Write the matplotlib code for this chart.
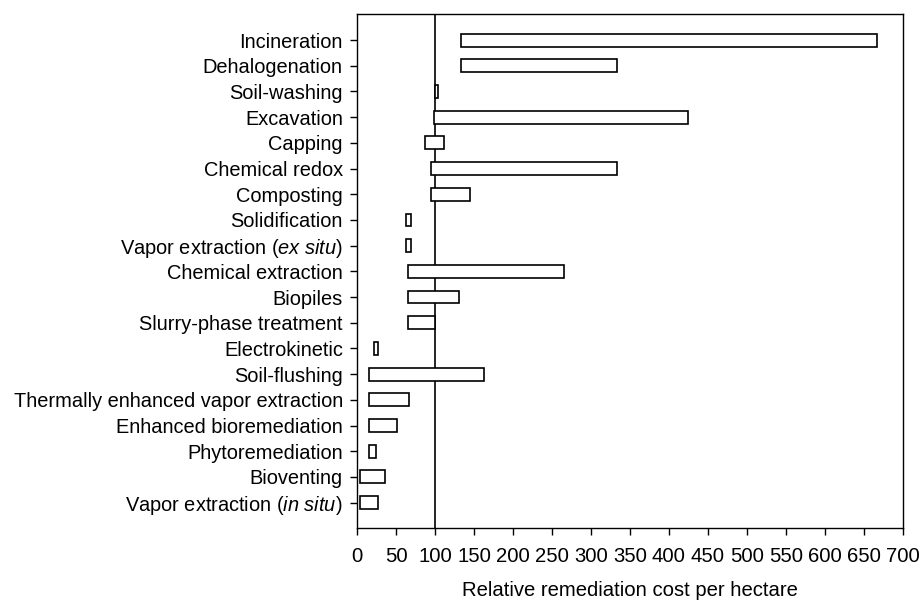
import numpy as np
import matplotlib
matplotlib.use("Agg")
import matplotlib.pyplot as plt

plt.rcParams["font.family"] = ["Liberation Sans", "DejaVu Sans"]
plt.rcParams["mathtext.fontset"] = "custom"
plt.rcParams["mathtext.rm"] = "Liberation Sans"
plt.rcParams["mathtext.it"] = "Liberation Sans:italic"

# technologies, top to bottom, with low / high relative cost per hectare
techs = ["Incineration", "Dehalogenation", "Soil-washing", "Excavation", "Capping",
         "Chemical redox", "Composting", "Solidification",
         r"Vapor extraction ($\it{ex\ situ}$)", "Chemical extraction", "Biopiles",
         "Slurry-phase treatment", "Electrokinetic", "Soil-flushing",
         "Thermally enhanced vapor extraction", "Enhanced bioremediation",
         "Phytoremediation", "Bioventing", r"Vapor extraction ($\it{in\ situ}$)"]
low = [133, 133, 100, 98, 87, 94, 94, 63, 63, 65, 65, 65, 21, 15, 15, 15, 15, 4, 4]
high = [667, 333, 104, 424, 111, 333, 145, 69, 69, 265, 130, 100, 27, 163, 66, 51, 24, 35, 26]
ref_cost = 100

n = len(techs)
y = np.arange(n)[::-1]
low = np.array(low); high = np.array(high)

fig = plt.figure(figsize=(9.21, 6), dpi=100)
ax = fig.add_axes([0.388, 0.1195, 0.592, 0.8565])
ax.barh(y, high - low, left=low, height=0.5, color="white", edgecolor="black", linewidth=1.2, zorder=3)
ax.axvline(ref_cost, color="black", linewidth=1.2, zorder=2)

ax.set_xlim(0, 700)
ax.set_ylim(-1, n)
ax.set_xticks(np.arange(0, 701, 50))
ax.set_yticks(y)
ax.set_yticklabels(techs)
ax.tick_params(axis="both", length=5, width=1.0, direction="out")
ax.tick_params(axis="y", labelsize=14.4, pad=5.5)
ax.tick_params(axis="x", labelsize=14.6, pad=8.5)
for s in ax.spines.values():
    s.set_linewidth(1.0)
ax.set_xlabel("Relative remediation cost per hectare", fontsize=14.6, labelpad=11)

fig.savefig("out.png", dpi=100)
